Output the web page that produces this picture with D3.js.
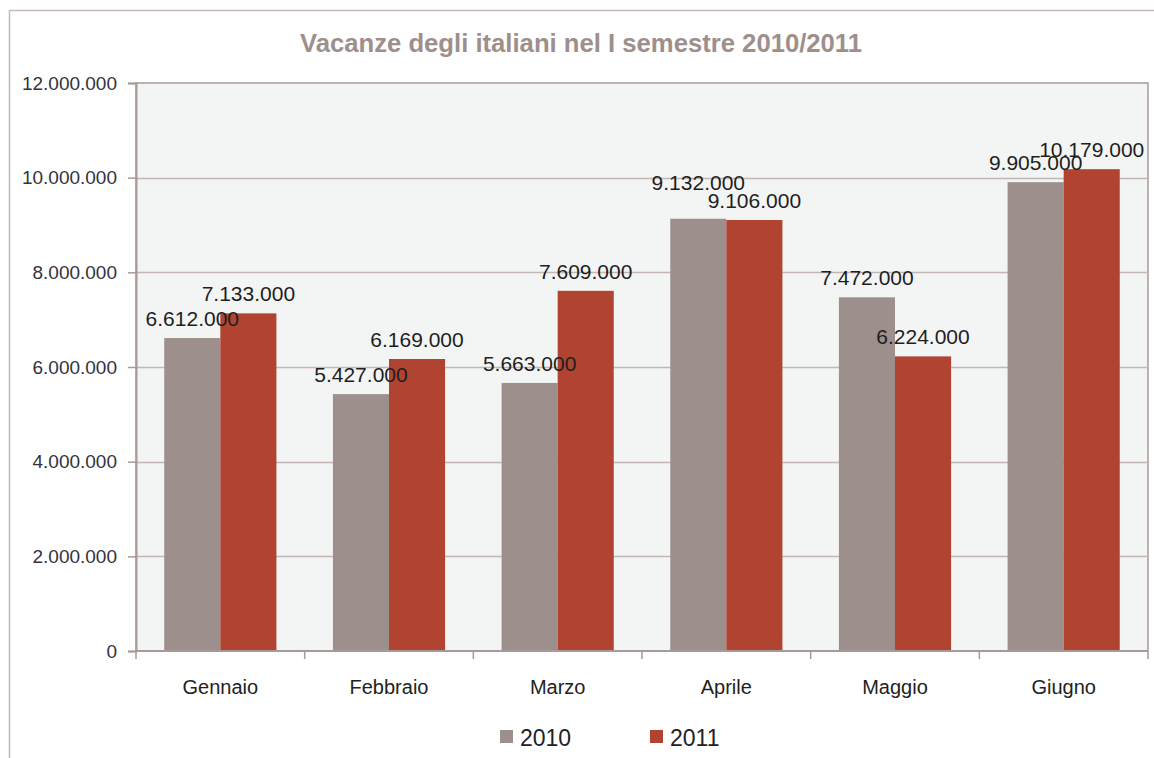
<!DOCTYPE html>
<html>
<head>
<meta charset="utf-8">
<script src="https://cdn.jsdelivr.net/npm/d3@7/dist/d3.min.js"></script>
<style>
  body { margin: 0; background: #fff; }
  text { font-family: "Liberation Sans", Arial, sans-serif; }
</style>
</head>
<body>
<div id="chart"></div>
<script>
"use strict";

// data
var months = ["Gennaio", "Febbraio", "Marzo", "Aprile", "Maggio", "Giugno"];
var years = ["2010", "2011"];
var values2010 = [6612000, 5427000, 5663000, 9132000, 7472000, 9905000];
var values2011 = [7133000, 6169000, 7609000, 9106000, 6224000, 10179000];
var yTicks = [0, 2000000, 4000000, 6000000, 8000000, 10000000, 12000000];

var colors = { "2010": "#9d908c", "2011": "#b04430" };

var W = 1154, H = 758;
var margin = { top: 83, right: 6, bottom: 107, left: 136 },
  width = W - margin.left - margin.right,
  height = H - margin.top - margin.bottom;

// italian number format (dots for thousands)
var it = d3.formatLocale({ decimal: ",", thousands: ".", grouping: [3], currency: ["€", ""] });
var fmt = it.format(",d");

var svg = d3.select("#chart")
  .append("svg")
  .attr("width", W)
  .attr("height", H);

// outer chart frame
svg.append("rect")
  .attr("x", 9.5)
  .attr("y", 10.5)
  .attr("width", W + 20)
  .attr("height", H + 20)
  .attr("fill", "none")
  .attr("stroke", "#c6b8b6")
  .attr("stroke-width", 1.5);

svg.append("text")
  .attr("x", 581)
  .attr("y", 52)
  .attr("text-anchor", "middle")
  .attr("font-size", 26)
  .attr("font-weight", "bold")
  .attr("fill", "#9e8f8b")
  .attr("textLength", 562)
  .attr("lengthAdjust", "spacingAndGlyphs")
  .text("Vacanze degli italiani nel I semestre 2010/2011");

var g = svg.append("g")
  .attr("transform", "translate(" + margin.left + "," + margin.top + ")");

var x0 = d3.scaleBand()
  .domain(months)
  .range([0, width])
  .paddingInner(0.335)
  .paddingOuter(0.1675);

var x1 = d3.scaleBand()
  .domain(years)
  .range([0, x0.bandwidth()]);

var y = d3.scaleLinear()
  .domain([0, 12000000])
  .range([height, 0]);

// plot background
g.append("rect")
  .attr("width", width)
  .attr("height", height)
  .attr("fill", "#f3f5f4")
  .attr("stroke", "#a69b98")
  .attr("stroke-width", 1.5);

// gridlines
g.selectAll(".grid")
  .data(yTicks.slice(1, -1))
  .enter().append("line")
  .attr("class", "grid")
  .attr("x1", 0)
  .attr("x2", width)
  .attr("y1", function(d) { return Math.round(y(d)) + 0.5; })
  .attr("y2", function(d) { return Math.round(y(d)) + 0.5; })
  .attr("stroke", "#c3b7b4")
  .attr("stroke-width", 1.5);

var rows = months.map(function(m, i) {
  return { month: m, vals: [
    { year: "2010", value: values2010[i] },
    { year: "2011", value: values2011[i] }
  ] };
});

// label baseline above the bar; when the two labels of a month sit at
// nearly the same height, the higher bar's label is lifted one line up
function labelY(d, i, nodes) {
  var pair = d3.select(nodes[i].parentNode).datum().vals;
  var other = pair[1 - i];
  var base = y(d.value) - 12;
  if (Math.abs(y(d.value) - y(other.value)) < 8 && d.value > other.value) base -= 17;
  return base;
}

var groups = g.selectAll(".grp")
  .data(rows)
  .enter().append("g")
  .attr("class", "grp")
  .attr("transform", function(d) { return "translate(" + x0(d.month) + ",0)"; });

groups.selectAll("rect")
  .data(function(d) { return d.vals; })
  .enter().append("rect")
  .attr("x", function(d) { return x1(d.year); })
  .attr("y", function(d) { return y(d.value); })
  .attr("width", x1.bandwidth())
  .attr("height", function(d) { return height - y(d.value); })
  .attr("fill", function(d) { return colors[d.year]; });

groups.selectAll(".lbl")
  .data(function(d) { return d.vals; })
  .enter().append("text")
  .attr("class", "lbl")
  .attr("x", function(d) { return x1(d.year) + x1.bandwidth() / 2; })
  .attr("y", labelY)
  .attr("text-anchor", "middle")
  .attr("font-size", 21)
  .attr("fill", "#1e1e1e")
  .text(function(d) { return fmt(d.value); });

// y axis
var yAxis = g.append("g")
  .call(d3.axisLeft(y).tickValues(yTicks).tickFormat(fmt).tickSize(8).tickPadding(11));
yAxis.select(".domain").attr("stroke", "#a69b98").attr("stroke-width", 2);
yAxis.selectAll(".tick line").attr("stroke", "#a69b98").attr("stroke-width", 1.5);
yAxis.selectAll(".tick text")
  .attr("font-size", 19)
  .attr("font-family", "Liberation Sans, Arial, sans-serif")
  .attr("fill", "#333340");

// x axis with ticks at category boundaries
var xAxis = g.append("g")
  .attr("transform", "translate(0," + height + ")");
xAxis.append("line")
  .attr("x1", 0)
  .attr("x2", width)
  .attr("stroke", "#a69b98")
  .attr("stroke-width", 2);
xAxis.selectAll(".xt")
  .data(d3.range(months.length + 1))
  .enter().append("line")
  .attr("class", "xt")
  .attr("x1", function(i) { return i * x0.step(); })
  .attr("x2", function(i) { return i * x0.step(); })
  .attr("y1", 0)
  .attr("y2", 8)
  .attr("stroke", "#a69b98")
  .attr("stroke-width", 1.5);
xAxis.selectAll(".xl")
  .data(months)
  .enter().append("text")
  .attr("class", "xl")
  .attr("x", function(d) { return x0(d) + x0.bandwidth() / 2; })
  .attr("y", 43)
  .attr("text-anchor", "middle")
  .attr("font-size", 20)
  .attr("fill", "#222")
  .text(function(d) { return d; });

// legend
var legend = svg.selectAll(".leg")
  .data(years)
  .enter().append("g")
  .attr("class", "leg")
  .attr("transform", function(d, i) { return "translate(" + (500 + i * 150) + ",730)"; });
legend.append("rect")
  .attr("width", 13)
  .attr("height", 13)
  .attr("fill", function(d) { return colors[d]; });
legend.append("text")
  .attr("x", 20)
  .attr("y", 16)
  .attr("font-size", 23)
  .attr("fill", "#222")
  .text(function(d) { return d; });
</script>
</body>
</html>
